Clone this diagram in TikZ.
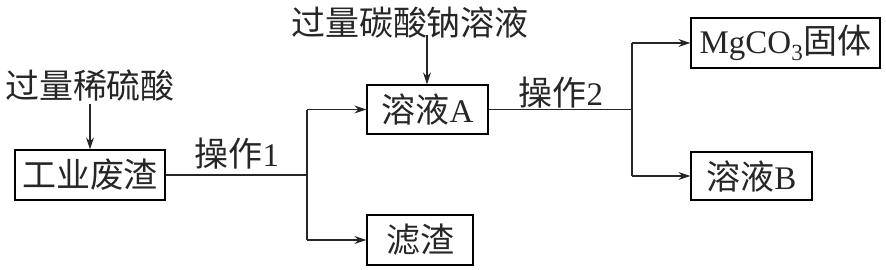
\documentclass[tikz,border=0pt]{standalone}
\usepackage{fontspec}
\setmainfont{Liberation Serif}
\newfontfamily\cjk{Noto Sans CJK SC}[Scale=1.03]
\usetikzlibrary{arrows.meta}
\begin{document}
\begin{tikzpicture}[x=1pt,y=-1pt,
  box/.style={draw, line width=1.3pt, inner sep=0pt, font=\fontsize{33}{35}\selectfont, text=black!85},
  lbl/.style={inner sep=0pt, font=\fontsize{33}{35}\selectfont, text=black!85},
  conn/.style={line width=1.3pt, draw=black!85},
  arr/.style={conn, -{Stealth[length=12pt,width=8pt]}}]
\useasboundingbox (0,0) rectangle (886,269);
% boxes
\node[box, minimum width=150pt, minimum height=50pt] (waste) at (90,175) {\cjk 工业废渣};
\node[box, minimum width=121pt, minimum height=49pt] (solA) at (427.5,109.5) {{\cjk 溶液}A};
\node[box, minimum width=106pt, minimum height=50pt] (res) at (420,240) {\cjk 滤渣};
\node[box, minimum width=189pt, minimum height=50pt] (mg) at (785.5,43) {MgCO\textsubscript{3}{\cjk 固体}};
\node[box, minimum width=121pt, minimum height=48pt] (solB) at (751.5,176) {{\cjk 溶液}B};
% reagent labels
\node[lbl] (acid) at (90,86) {\cjk 过量稀硫酸};
\node[lbl] (soda) at (410,22) {\cjk 过量碳酸钠溶液};
% operation labels
\node[lbl] (op1) at (237,154) {{\cjk 操作}1};
\node[lbl] (op2) at (561,93) {{\cjk 操作}2};
% junctions
\coordinate (j1) at (307,175);
\coordinate (j1t) at (307,109.5);
\coordinate (j1b) at (307,240);
\coordinate (j2) at (632,109.5);
\coordinate (j2t) at (632,43);
\coordinate (j2b) at (632,176);
\coordinate (acidend) at (90,104);
\coordinate (sodaend) at (427,35);
% connectors
\draw[arr] (acidend) -- (waste.north);
\draw[arr] (sodaend) -- (solA.north -| sodaend);
\draw[conn] (waste.east) -- (j1);
\draw[conn] (j1t) -- (j1b);
\draw[arr] (j1t) -- (solA.west);
\draw[arr] (j1b) -- (res.west);
\draw[conn] (solA.east) -- (j2);
\draw[conn] (j2t) -- (j2b);
\draw[arr] (j2t) -- (mg.west);
\draw[arr] (j2b) -- (solB.west);
\end{tikzpicture}
\end{document}
